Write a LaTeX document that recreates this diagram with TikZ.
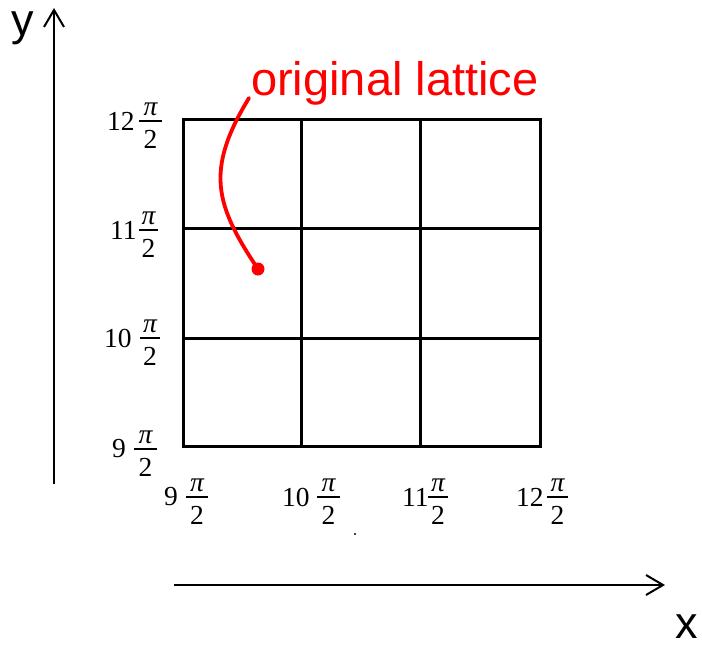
\documentclass[tikz,border=0pt]{standalone}
\usepackage{fontspec}
\setmainfont{Liberation Serif}
\newfontfamily\arialfont{Liberation Sans}
\usetikzlibrary{arrows.meta}
\newcommand\mytick[6]{%
  \node[ticktext, anchor=west] (#1n) at (#3,#6) {#2};
  \draw[fracbar] (#4,#6) -- (#5,#6);
  \node[ticktext, anchor=base] (#1p) at ({(#4+#5)/2},{#6-6}) {\itshape π};
  \node[ticktext, anchor=north] (#1d) at ({(#4+#5)/2},{#6+9}) {2};
}
\begin{document}
\begin{tikzpicture}[x=1pt,y=-1pt,
  gridline/.style={line width=3pt},
  axisline/.style={line width=2pt, -{Straight Barb[length=17pt,width=20pt,line width=2pt]}},
  ticktext/.style={font=\fontsize{27.5}{30}\selectfont, inner sep=0pt},
  fracbar/.style={line width=1.4pt},
  axislabel/.style={font=\arialfont\fontsize{45}{48}\selectfont, inner sep=0pt},
  callouttext/.style={font=\arialfont\fontsize{47}{50}\selectfont, inner sep=0pt, text=red},
  callout/.style={red, line width=3.8pt, line cap=round},
  ]
\useasboundingbox (0,0) rectangle (702,646);

% lattice
\draw[gridline] (183,119) rectangle (540,446);
\foreach \gx in {301,420} \draw[gridline] (\gx,119) -- (\gx,446);
\foreach \gy in {228,338} \draw[gridline] (183,\gy) -- (540,\gy);

% axes
\coordinate (ybot) at (54,484);
\coordinate (ytop) at (54,8);
\coordinate (xleft) at (174,585);
\coordinate (xright) at (665,585);
\draw[axisline] (ybot) -- (ytop);
\draw[axisline] (xleft) -- (xright);
\node[axislabel, anchor=base] (ylab) at (23,35) {y};
\node[axislabel, anchor=base] (xlab) at (687,638) {x};

% left tick labels
\mytick{l12}{12}{107}{139}{162}{121}
\mytick{l11}{11}{110}{139}{158}{230}
\mytick{l10}{10}{104}{140}{160}{338}
\mytick{l9}{9}{112}{134}{157}{449}
% bottom tick labels
\mytick{b9}{9}{164}{186}{208}{497}
\mytick{b10}{10}{282}{317}{340}{497}
\mytick{b11}{11}{402}{428}{448}{497}
\mytick{b12}{12}{516}{547}{568}{497}
\fill (355,534) circle (1.1);

% callout
\node[callouttext, anchor=base west] (orig) at (251,95) {original lattice};
\coordinate (dot) at (258,269);
\draw[callout] ([shift={(-2,3)}]orig.base west) .. controls (205,170) and (215,205) .. (dot);
\fill[red] (dot) circle (6.5);
\end{tikzpicture}
\end{document}
